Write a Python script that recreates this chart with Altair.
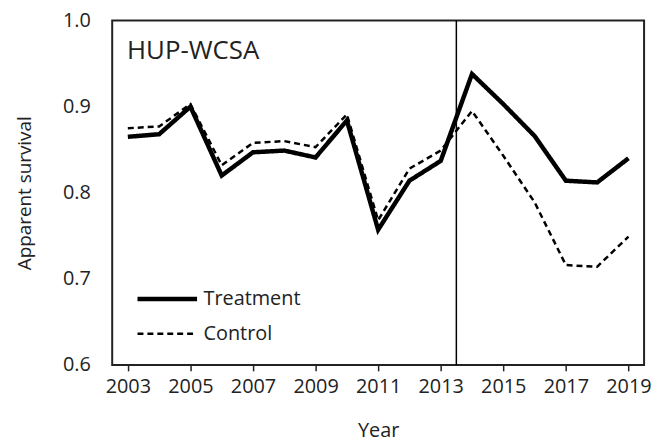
import altair as alt
import pandas as pd

years = list(range(2003, 2020))
treatment = [0.865, 0.868, 0.900, 0.820, 0.847, 0.849, 0.841, 0.884, 0.757,
             0.814, 0.837, 0.938, 0.903, 0.866, 0.814, 0.812, 0.840]
control = [0.875, 0.877, 0.903, 0.832, 0.858, 0.860, 0.853, 0.891, 0.768,
           0.828, 0.849, 0.895, 0.843, 0.789, 0.716, 0.714, 0.749]
series = ["Treatment", "Control"]
break_year = [2013.5]
panel_label = "HUP-WCSA"

rows = []
for y, t, c in zip(years, treatment, control):
    rows.append({"Year": y, "Series": "Treatment", "Value": t})
    rows.append({"Year": y, "Series": "Control", "Value": c})
df = pd.DataFrame(rows)

FONT = "Open Sans"
x_scale = alt.Scale(domain=[2002.5, 2019.5], nice=False, zero=False)
y_scale = alt.Scale(domain=[0.6, 1.0], nice=False, zero=False)

legend_kw = dict(title=None, orient="none", legendX=23, legendY=268,
                 symbolType="stroke", symbolSize=3600, symbolStrokeColor="black",
                 labelFontSize=20, labelFont=FONT, labelColor="#222",
                 labelOffset=4, clipHeight=25, rowPadding=10)

lines = alt.Chart(df).mark_line(color="black").encode(
    x=alt.X("Year:Q", scale=x_scale,
            axis=alt.Axis(title="Year", values=years, format="d",
                          labelExpr="datum.value % 2 == 1 ? datum.label : ''",
                          grid=False, domain=False, tickSize=6, tickWidth=1.5,
                          tickColor="#222", labelPadding=6, labelFontSize=20,
                          labelColor="#222", titleFontSize=20, titleColor="#222",
                          titleFontWeight="normal", titlePadding=24,
                          labelFont=FONT, titleFont=FONT)),
    y=alt.Y("Value:Q", scale=y_scale,
            axis=alt.Axis(title="Apparent survival", values=[0.6, 0.7, 0.8, 0.9, 1.0],
                          format=".1f", grid=False, domain=False, ticks=False,
                          labelPadding=22, labelFontSize=20, labelColor="#222",
                          titleFontSize=19, titleColor="#222", titleFontWeight="normal",
                          titlePadding=28, labelFont=FONT, titleFont=FONT)),
    strokeDash=alt.StrokeDash("Series:N",
                              scale=alt.Scale(domain=series, range=[[1, 0], [6, 4]]),
                              legend=alt.Legend(**legend_kw)),
    strokeWidth=alt.StrokeWidth("Series:N",
                                scale=alt.Scale(domain=series, range=[4.5, 2.5]),
                                legend=alt.Legend(**legend_kw)),
)

rule = alt.Chart(pd.DataFrame({"x": break_year})).mark_rule(
    color="black", strokeWidth=1.5).encode(x=alt.X("x:Q", scale=x_scale))

label = alt.Chart(pd.DataFrame({"t": [panel_label]})).mark_text(
    align="left", baseline="middle", fontSize=26, font=FONT, color="#222"
).encode(x=alt.value(15), y=alt.value(31), text="t:N")

chart = alt.layer(lines, rule, label).properties(
    width=536, height=347,
    autosize=alt.AutoSizeParams(type="none"),
    padding={"left": 105, "top": 11, "right": 10, "bottom": 78},
).configure_view(stroke="#222", strokeWidth=2)

chart.save("out.html", embed_options={"renderer": "svg", "actions": False})
